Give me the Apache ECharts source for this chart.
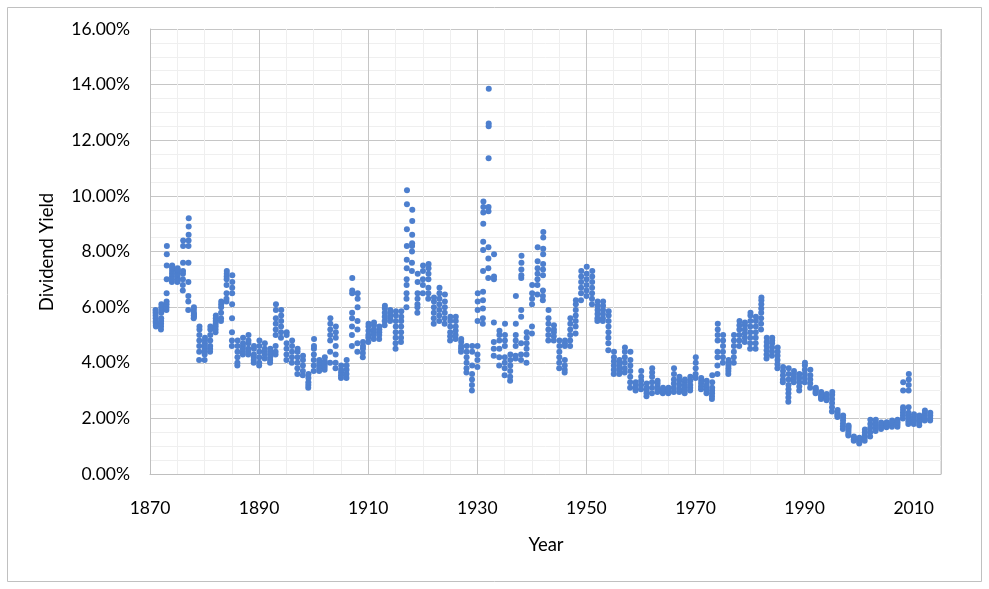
<!DOCTYPE html>
<html>
<head>
<meta charset="utf-8">
<script src="https://cdn.jsdelivr.net/npm/echarts@6/dist/echarts.min.js"></script>
<style>
html,body{margin:0;padding:0;background:#fff;}
#chart{width:989px;height:589px;}
</style>
</head>
<body>
<div id="chart"></div>
<script>
// Year of each column of monthly readings
const years = [];
for (let y = 1871; y <= 2013; y++) years.push(y);

// Dividend yield readings (%) for each year
const yields = [
  [5.9,5.8,5.7,5.6,5.5,5.45,5.4,5.35,5.3],            //1871
  [5.2,5.3,5.4,5.5,5.6,5.8,5.9,6.0,6.1],              //1872
  [5.9,6.0,6.1,6.2,6.5,7.0,7.5,7.9,8.2],              //1873
  [6.9,7.0,7.1,7.2,7.3,7.4,7.5,7.45],                 //1874
  [6.9,7.0,7.1,7.2,7.3,7.4,7.35,6.95],                //1875
  [6.6,6.8,7.0,7.2,7.3,7.6,8.2,8.4],                  //1876
  [5.9,6.2,6.4,6.9,7.6,8.2,8.4,8.6,8.9,9.2],          //1877
  [5.6,5.7,5.8,5.9,6.0,5.65,5.75],                    //1878
  [4.1,4.4,4.6,4.8,5.0,5.2,5.3],                      //1879
  [4.1,4.3,4.4,4.5,4.6,4.7,4.8,4.9],                  //1880
  [4.4,4.5,4.6,4.8,5.0,5.2,5.3],                      //1881
  [5.1,5.2,5.3,5.4,5.5,5.6,5.7],                      //1882
  [5.5,5.6,5.8,6.0,6.1,6.2],                          //1883
  [6.2,6.3,6.5,6.8,7.0,7.1,7.2,7.3],                  //1884
  [4.6,4.8,5.1,5.6,6.1,6.5,6.7,6.9,7.15],             //1885
  [3.9,4.0,4.2,4.4,4.6,4.8],                          //1886
  [4.3,4.4,4.5,4.6,4.7,4.9],                          //1887
  [4.3,4.4,4.5,4.7,4.8,5.0],                          //1888
  [4.0,4.1,4.2,4.3,4.5,4.6],                          //1889
  [3.9,4.0,4.2,4.4,4.6,4.8],                          //1890
  [4.15,4.3,4.4,4.5,4.7],                             //1891
  [4.0,4.1,4.2,4.3,4.4,4.5],                          //1892
  [4.3,4.4,4.6,5.0,5.2,5.4,5.6,5.9,6.1],              //1893
  [4.9,5.1,5.3,5.5,5.7,5.9],                          //1894
  [4.1,4.3,4.5,4.7,5.0,5.1],                          //1895
  [4.0,4.2,4.4,4.6,4.8],                              //1896
  [3.6,3.8,4.0,4.2,4.4,4.5],                          //1897
  [3.55,3.7,3.9,4.1,4.25],                            //1898
  [3.1,3.2,3.3,3.45,3.6],                             //1899
  [3.7,3.9,4.1,4.3,4.5,4.6,4.85],                     //1900
  [3.7,3.8,3.9,4.0,4.1],                              //1901
  [3.75,3.85,3.95,4.05,4.2],                          //1902
  [4.0,4.4,4.8,5.0,5.2,5.4,5.6],                      //1903
  [3.8,4.0,4.3,4.6,4.9,5.1,5.3],                      //1904
  [3.45,3.55,3.65,3.75,3.9],                          //1905
  [3.45,3.6,3.75,3.9,4.1],                            //1906
  [4.6,5.0,5.3,5.6,5.8,6.5,6.6,7.05],                 //1907
  [4.4,4.7,5.2,5.5,6.0,6.3,6.5],                      //1908
  [4.2,4.35,4.5,4.6,4.75],                            //1909
  [4.75,4.9,5.0,5.15,5.3,5.4],                        //1910
  [4.85,5.0,5.1,5.2,5.35,5.45],                       //1911
  [4.85,5.0,5.1,5.2,5.3],                             //1912
  [5.35,5.5,5.65,5.8,5.95,6.05],                      //1913
  [5.5,5.6,5.7,5.8,5.9],                              //1914
  [4.5,4.7,4.9,5.1,5.3,5.5,5.7,5.85],                 //1915
  [4.75,4.9,5.1,5.3,5.5,5.65,5.85],                   //1916
  [6.0,6.3,6.5,6.8,7.0,7.4,7.7,8.2,8.8,9.7,10.2],     //1917
  [7.3,7.6,8.0,8.2,8.3,8.6,9.1,9.5],                  //1918
  [5.8,6.0,6.1,6.3,6.5,6.9,7.2],                      //1919
  [6.5,6.8,7.0,7.3,7.5],                              //1920
  [6.3,6.5,6.7,7.0,7.2,7.4,7.55],                     //1921
  [5.4,5.6,5.8,6.0,6.2,6.35],                         //1922
  [5.5,5.7,5.9,6.1,6.3,6.5,6.7],                      //1923
  [5.4,5.6,5.8,6.0,6.2,6.45],                         //1924
  [4.8,4.95,5.1,5.3,5.5,5.65],                        //1925
  [4.85,5.0,5.15,5.3,5.5,5.65],                       //1926
  [4.4,4.5,4.6,4.75,4.85],                            //1927
  [3.65,3.8,4.0,4.2,4.4,4.6],                         //1928
  [3.0,3.2,3.4,3.6,3.9,4.4,4.6],                      //1929
  [3.85,4.1,4.3,4.6,5.5,5.9,6.2,6.5],                 //1930
  [5.4,5.6,5.95,6.25,6.55,7.3,8.05,8.35,9.0,9.4,9.6,9.8], //1931
  [7.05,7.4,7.75,8.15,9.45,9.6,11.35,12.5,12.6,13.85],//1932
  [4.25,4.5,4.75,5.45,7.0,7.1,7.9],                   //1933
  [3.9,4.2,4.5,4.8,5.0,5.15],                         //1934
  [3.55,3.8,4.0,4.2,4.6,4.8,5.0,5.4],                 //1935
  [3.35,3.5,3.7,3.9,4.1,4.3],                         //1936
  [4.15,4.25,4.6,4.8,5.0,5.4,6.4],                    //1937
  [4.1,4.3,4.7,5.65,5.9,7.05,7.15,7.35,7.6,7.85],     //1938
  [4.0,4.3,4.5,4.7,4.9,5.1],                          //1939
  [5.05,5.3,6.1,6.3,6.5,6.8],                         //1940
  [6.45,6.8,7.0,7.2,7.4,7.65,8.15],                   //1941
  [6.25,6.4,6.6,7.15,7.35,7.55,7.9,8.1,8.5,8.7],      //1942
  [4.8,5.0,5.2,5.4,5.6,5.9],                          //1943
  [4.8,4.95,5.1,5.2,5.35],                            //1944
  [3.8,4.0,4.2,4.4,4.6,4.8],                          //1945
  [3.65,3.75,3.9,4.1,4.6,4.7,4.8],                    //1946
  [4.6,4.8,5.0,5.2,5.4,5.6],                          //1947
  [5.05,5.3,5.5,5.7,5.9,6.1,6.25],                    //1948
  [6.25,6.5,6.7,6.9,7.1,7.3],                         //1949
  [6.4,6.6,6.8,7.0,7.2,7.45],                         //1950
  [6.1,6.3,6.5,6.7,6.9,7.1,7.3],                      //1951
  [5.5,5.6,5.75,5.9,6.05,6.2],                        //1952
  [5.5,5.6,5.75,5.9,6.05,6.2],                        //1953
  [4.45,4.7,4.9,5.1,5.3,5.5,5.7,5.85],                //1954
  [3.6,3.75,3.9,4.05,4.2,4.4],                        //1955
  [3.6,3.7,3.8,3.9,4.0,4.1],                          //1956
  [3.65,3.8,4.0,4.2,4.4,4.55],                        //1957
  [3.1,3.3,3.5,3.7,3.9,4.1,4.4],                      //1958
  [3.0,3.1,3.2,3.3],                                  //1959
  [3.05,3.2,3.35,3.5,3.7],                            //1960
  [2.8,2.9,3.0,3.1,3.25],                             //1961
  [2.9,3.1,3.3,3.5,3.65,3.8],                         //1962
  [2.95,3.05,3.15,3.25,3.35],                         //1963
  [2.9,2.95,3.0,3.05,3.1],                            //1964
  [2.9,2.95,3.0,3.05,3.1],                            //1965
  [2.95,3.1,3.25,3.4,3.6,3.8],                        //1966
  [2.95,3.05,3.2,3.35,3.5],                           //1967
  [2.9,3.0,3.1,3.2,3.3,3.4],                          //1968
  [3.0,3.1,3.2,3.35,3.5],                             //1969
  [3.45,3.6,3.8,4.0,4.2],                             //1970
  [3.05,3.15,3.25,3.35,3.45],                         //1971
  [2.9,3.0,3.1,3.2,3.35],                             //1972
  [2.7,2.8,2.9,3.0,3.1,3.3,3.55],                     //1973
  [3.6,3.9,4.2,4.4,4.8,5.0,5.2,5.4],                  //1974
  [4.0,4.2,4.4,4.6,4.8,5.0],                          //1975
  [3.6,3.7,3.8,3.9,4.0,4.1],                          //1976
  [4.0,4.2,4.4,4.6,4.8,5.0],                          //1977
  [4.6,4.8,5.0,5.2,5.35,5.5],                         //1978
  [4.75,4.9,5.05,5.2,5.35,5.45],                      //1979
  [4.5,4.7,4.9,5.1,5.3,5.5,5.7,5.8],                  //1980
  [4.5,4.7,4.9,5.1,5.3,5.5,5.65],                     //1981
  [5.2,5.4,5.6,5.8,5.95,6.1,6.25,6.35],               //1982
  [4.15,4.3,4.45,4.6,4.75,4.9],                       //1983
  [4.25,4.4,4.55,4.7,4.8,4.9],                        //1984
  [3.8,3.95,4.1,4.25,4.4,4.55],                       //1985
  [3.3,3.4,3.55,3.7,3.85],                            //1986
  [2.6,2.75,2.9,3.05,3.2,3.4,3.6,3.8],                //1987
  [3.3,3.4,3.5,3.6,3.7],                              //1988
  [3.0,3.15,3.3,3.45,3.6],                            //1989
  [3.3,3.45,3.6,3.75,3.9,4.0],                        //1990
  [3.1,3.25,3.4,3.55,3.75],                           //1991
  [2.9,2.95,3.0,3.05,3.1],                            //1992
  [2.7,2.75,2.8,2.85,2.95],                           //1993
  [2.65,2.7,2.75,2.8,2.88],                           //1994
  [2.25,2.4,2.55,2.7,2.85,2.95],                      //1995
  [2.05,2.1,2.15,2.2,2.3],                            //1996
  [1.62,1.72,1.82,1.92,2.02,2.1],                     //1997
  [1.38,1.45,1.52,1.6,1.68,1.74],                     //1998
  [1.2,1.25,1.3,1.35],                                //1999
  [1.1,1.15,1.2,1.25,1.3],                            //2000
  [1.2,1.3,1.4,1.5,1.6],                              //2001
  [1.35,1.5,1.65,1.8,1.95],                           //2002
  [1.55,1.65,1.75,1.85,1.95],                         //2003
  [1.62,1.7,1.78,1.85],                               //2004
  [1.68,1.74,1.8,1.86],                               //2005
  [1.7,1.78,1.85,1.92],                               //2006
  [1.7,1.78,1.86,1.95],                               //2007
  [2.0,2.1,2.2,2.3,2.4,3.0,3.3],                      //2008
  [1.8,1.9,2.0,2.1,2.2,2.4,3.0,3.2,3.4,3.6],          //2009
  [1.8,1.9,1.95,2.05,2.15],                           //2010
  [1.75,1.85,1.95,2.05,2.1],                          //2011
  [1.92,2.0,2.1,2.2,2.28],                            //2012
  [1.92,2.0,2.1,2.2]                                  //2013
];

// Axis settings
const xMin = 1870, xMax = 2015, xMajor = 20, xMinor = 5;
const yMin = 0, yMax = 16, yMajor = 2;
const xTitle = 'Year';
const yTitle = 'Dividend Yield';

const points = [];
years.forEach((yr, i) => {
  yields[i].forEach((v, j) => {
    points.push([yr + (j + 1) / 100, v]);
  });
});

const font = 'Lato, "Open Sans", "Liberation Sans", sans-serif';
const chart = echarts.init(document.getElementById('chart'), null, {renderer: 'canvas'});
chart.setOption({
  animation: false,
  backgroundColor: '#ffffff',
  grid: {left: 150, top: 29, width: 791, height: 445, containLabel: false},
  xAxis: [
    {
      type: 'value', min: xMin, max: xMax, interval: xMinor,
      axisLine: {show: false}, axisTick: {show: false}, axisLabel: {show: false},
      splitLine: {show: true, lineStyle: {color: '#efefef', width: 1}}
    },
    {
      type: 'value', min: xMin, max: xMax, interval: xMajor, position: 'bottom',
      axisLine: {show: true, onZero: false, lineStyle: {color: '#bfbfbf', width: 1}},
      axisTick: {show: false},
      axisLabel: {
        show: true, margin: 25, color: '#000', fontFamily: font, fontSize: 17.5,
        showMaxLabel: false,
        formatter: v => String(v)
      },
      splitLine: {show: true, lineStyle: {color: '#c6c6c6', width: 1}}
    }
  ],
  yAxis: {
    type: 'value', min: yMin, max: yMax, interval: yMajor,
    axisLine: {show: true, lineStyle: {color: '#bfbfbf', width: 1}},
    axisTick: {show: false},
    minorTick: {show: false, splitNumber: 4},
    minorSplitLine: {show: true, lineStyle: {color: '#efefef', width: 1}},
    axisLabel: {
      margin: 20, color: '#000', fontFamily: font, fontSize: 17.5,
      formatter: v => v.toFixed(2) + '%'
    },
    splitLine: {show: true, lineStyle: {color: '#c6c6c6', width: 1}}
  },
  graphic: [
    {type: 'rect', shape: {x: 7.5, y: 7.5, width: 974, height: 574},
     style: {fill: 'none', stroke: '#c0c0c0', lineWidth: 1}, z: -10, silent: true},
    {type: 'line', shape: {x1: 941, y1: 29, x2: 941, y2: 474},
     style: {stroke: '#c6c6c6', lineWidth: 1}, silent: true},
    {type: 'text', x: 546, y: 545,
     style: {text: xTitle, font: '18.5px ' + font, fill: '#000', textAlign: 'center', textVerticalAlign: 'middle'}},
    {type: 'text', x: 47, y: 252, rotation: Math.PI / 2,
     style: {text: yTitle, font: '18.5px ' + font, fill: '#000', textAlign: 'center', textVerticalAlign: 'middle'}}
  ],
  series: [{
    type: 'scatter',
    xAxisIndex: 1,
    data: points,
    symbol: 'circle',
    symbolSize: 6,
    itemStyle: {color: '#4d7fce', opacity: 1},
    z: 5
  }]
});
</script>
</body>
</html>
